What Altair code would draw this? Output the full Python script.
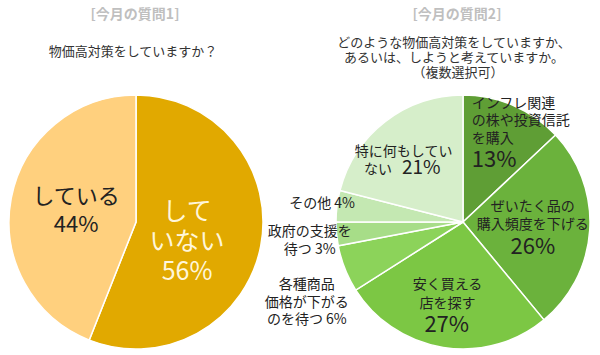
import altair as alt
import pandas as pd

FONT = "Noto Sans CJK JP"

# ---- data ----
q1_cats = ["していない", "している"]
q1_vals = [56, 44]
q1_cols = ["#E1A900", "#FFD07E"]

q2_cats = ["インフレ関連の株や投資信託を購入", "ぜいたく品の購入頻度を下げる", "安く買える店を探す",
           "各種商品価格が下がるのを待つ", "政府の支援を待つ", "その他", "特に何もしていない"]
q2_vals = [13, 26, 27, 6, 3, 4, 21]
q2_cols = ["#5F9E35", "#6BB23C", "#7CC744", "#8CD35A", "#A7DD88", "#C4E8B2", "#D6EECA"]

title1 = "[今月の質問1]"
question1 = "物価高対策をしていますか？"
title2 = "[今月の質問2]"
question2 = ["どのような物価高対策をしていますか、", "あるいは、しようと考えていますか。", "（複数選択可）"]

# ---- layout ----
C1 = (136, 222)
C2 = (463, 222)
R = 127

df1 = pd.DataFrame({"cat": q1_cats, "v": q1_vals, "col": q1_cols, "idx": range(len(q1_cats))})
df2 = pd.DataFrame({"cat": q2_cats, "v": q2_vals, "col": q2_cols, "idx": range(len(q2_cats))})


def pie(df, c):
    return alt.Chart(df).mark_arc(radius=R, stroke="white", strokeWidth=1.5).encode(
        theta=alt.Theta("v:Q", stack=True),
        order=alt.Order("idx:Q", sort="ascending"),
        color=alt.Color("col:N", scale=None),
        x=alt.value(c[0]), y=alt.value(c[1]),
    )


def label(df, c, cat, text, radius, dx=0, dy=0, size=14, align="center",
          color="#222222", lh=18):
    n = text.count("\n")
    dy = dy - n * lh / 2  # centre the block of lines on the anchor
    return alt.Chart(df).mark_text(
        radius=radius, dx=dx, dy=dy, fontSize=size, align=align, baseline="middle",
        font=FONT, color=color, lineBreak="\n", lineHeight=lh,
    ).encode(
        theta=alt.Theta("v:Q", stack=True),
        order=alt.Order("idx:Q", sort="ascending"),
        text=alt.condition(alt.datum.cat == cat, alt.value(text), alt.value("")),
        x=alt.value(c[0]), y=alt.value(c[1]),
    )


def static_text(t, x, y, size, color, weight="normal"):
    return alt.Chart(pd.DataFrame({"t": [t]})).mark_text(
        fontSize=size, font=FONT, color=color, fontWeight=weight, baseline="middle", align="center"
    ).encode(text="t:N", x=alt.value(x), y=alt.value(y))


layers = [pie(df1, C1), pie(df2, C2)]

layers += [
    label(df1, C1, q1_cats[1], "している\n44%", 61, 0, 0, 22, lh=28),
    label(df1, C1, q1_cats[0], "して\nいない\n56%", 52, 0, 10, 25, color="#FFF6DA", lh=30),
    label(df2, C2, q2_cats[0], "インフレ関連\nの株や投資信託\nを購入", 100, -31, -9, 14, "left", lh=17.5),
    label(df2, C2, q2_cats[0], "13%", 70, -19, 2, 22, "left"),
    label(df2, C2, q2_cats[1], "ぜいたく品の\n購入頻度を下げる", 70, 0, -10, 14, lh=18),
    label(df2, C2, q2_cats[1], "26%", 70, 0, 21, 22),
    label(df2, C2, q2_cats[2], "安く買える\n店を探す", 73, -4, 0, 14, lh=19),
    label(df2, C2, q2_cats[2], "27%", 104, 0, 0, 22),
    label(df2, C2, q2_cats[3], "各種商品\n価格が下がる\nのを待つ 6%", 168, 0, 19, 14, lh=17.5),
    label(df2, C2, q2_cats[4], "政府の支援を\n待つ 3%", 154, 0, 4.5, 14, lh=18),
    label(df2, C2, q2_cats[5], "その他 4%", 142, 0, 0, 14),
    label(df2, C2, q2_cats[6], "特に何もしてい", 92, -3, 3, 14),
    label(df2, C2, q2_cats[6], "ない", 75, -39, 7, 14),
    label(df2, C2, q2_cats[6], "21%", 68, 0, 0, 19),
]

layers += [
    static_text(title1, 135, 15, 14, "#BFBFBF", "bold"),
    static_text(question1, 133, 52, 13, "#333333"),
    static_text(title2, 457, 15, 14, "#BFBFBF", "bold"),
    static_text(question2[0], 454, 43, 13, "#333333"),
    static_text(question2[1], 454, 58, 13, "#333333"),
    static_text(question2[2], 458, 73, 13, "#333333"),
]

chart = alt.layer(*layers).properties(
    width=600, height=355, padding=0, autosize=alt.AutoSizeParams(type="none"),
    background="white",
).configure_view(strokeWidth=0)

chart.save("out.html", embed_options={"renderer": "svg", "actions": False})
